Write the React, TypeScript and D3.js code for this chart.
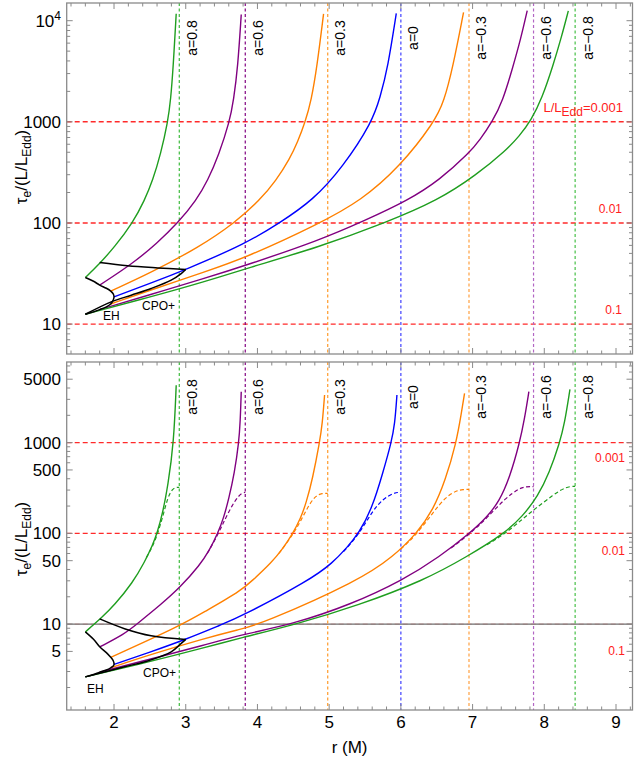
import React from 'react';
import * as d3 from 'd3';

type Pt = [number, number];

// spins, ISCO radii (vertical dashed lines) and colours
const SPINS = ['0.8', '0.6', '0.3', '0', '\u22120.3', '\u22120.6', '\u22120.8'];
const ISCO = [2.91, 3.83, 4.98, 6.0, 6.95, 7.85, 8.43];
const COLORS = ['#1f9e1f', '#800080', '#ff8000', '#0000ff', '#ff8000', '#800080', '#1f9e1f'];
const ISCO_COLORS = ['#3cba3c', '#800080', '#ff9a2a', '#4040ff', '#ffa040', '#b266c4', '#46bf46'];

// red lines: tau_e/(L/L_Edd) value and L/L_Edd label
const EDD_VALUES = [1000, 100, 10];
const EDD_LABELS = ['0.001', '0.01', '0.1'];

// x ticks
const X_MAJOR = [2, 3, 4, 5, 6, 7, 8, 9];

// top panel : solid curves, r (M) vs tau_e/(L/L_Edd)
const TOP_A08: Pt[] = [[1.6, 28.9], [1.8, 39.7], [2.0, 57], [2.26, 100], [2.425, 167], [2.54, 264], [2.65, 480], [2.75, 1000], [2.79, 1650], [2.825, 3470], [2.867, 11700]];
const TOP_A06: Pt[] = [[1.8, 24.3], [2.26, 39.7], [2.6, 63], [2.89, 100], [3.146, 167], [3.308, 264], [3.46, 470], [3.611, 1000], [3.668, 1650], [3.726, 3470], [3.774, 11500]];
const TOP_A03: Pt[] = [[1.954, 21.2], [2.495, 31.7], [3.192, 58], [3.68, 100], [4.03, 167], [4.262, 264], [4.45, 431], [4.56, 631], [4.666, 1000], [4.75, 1620], [4.83, 3500], [4.922, 11700]];
const TOP_A0: Pt[] = [[2.0, 18.6], [2.5, 25.2], [3.0, 34.6], [3.843, 62.7], [4.308, 100], [4.772, 167], [5.191, 357], [5.601, 1000], [5.71, 1740], [5.819, 3470], [5.936, 11800]];
const TOP_AM03: Pt[] = [[1.954, 15.8], [2.5, 21.6], [3.262, 32.8], [3.843, 45.5], [4.866, 98.7], [5.447, 167], [5.982, 357], [6.47, 1000], [6.6, 1580], [6.725, 3470], [6.874, 12100]];
const TOP_AM06: Pt[] = [[1.8, 13.9], [2.5, 19.5], [3.262, 28.3], [3.843, 38.2], [4.866, 67.5], [5.5, 106], [6.097, 167], [6.54, 266], [6.958, 496], [7.1, 660], [7.274, 1000], [7.42, 1600], [7.561, 3470], [7.67, 6550], [7.762, 12600]];
const TOP_AM08: Pt[] = [[1.6, 12.5], [2.5, 18.5], [3.262, 26.2], [3.843, 35.5], [4.866, 58], [5.78, 100], [6.516, 167], [7.05, 297], [7.47, 525], [7.65, 720], [7.818, 1040], [7.97, 1725], [8.12, 3560], [8.24, 6920], [8.335, 12500]];
const TOP_EH: Pt[] = [[1.6, 28.9], [1.714, 26.5], [1.8, 24.3], [1.893, 22.6], [1.954, 21.2], [1.989, 19.9], [2.0, 18.6], [1.989, 17.3], [1.954, 15.8], [1.893, 14.8], [1.8, 13.9], [1.714, 13.2], [1.6, 12.5]];
const TOP_CPO_U: Pt[] = [[1.8, 40.6], [2.19, 37.7], [2.61, 35.9], [3.0, 34.6]];
const TOP_CPO_L: Pt[] = [[3.0, 34.6], [2.937, 31.6], [2.797, 27.2], [2.518, 22.5], [2.24, 19.3], [1.96, 16.6], [1.6, 12.5]];

// bottom panel : solid curves
const BOT_A08: Pt[] = [[1.6, 8.2], [1.82, 11.6], [2.006, 16.2], [2.26, 28.6], [2.425, 48], [2.54, 75], [2.6, 100], [2.68, 170], [2.75, 330], [2.834, 1000], [2.867, 4300]];
const BOT_A06: Pt[] = [[1.8, 5.6], [2.146, 7.8], [2.305, 9.8], [2.656, 16.5], [2.914, 25], [3.2, 45], [3.33, 65], [3.447, 100], [3.53, 149], [3.6, 240], [3.68, 466], [3.74, 1000], [3.76, 1700], [3.774, 3640]];
const BOT_A03: Pt[] = [[1.954, 4.3], [2.914, 9.5], [3.262, 13.7], [3.751, 22.7], [3.936, 30.5], [4.2, 48], [4.35, 67], [4.493, 100], [4.6, 145], [4.68, 217], [4.77, 404], [4.866, 1000], [4.905, 1610], [4.936, 3350]];
const BOT_A0: Pt[] = [[2.0, 3.6], [2.5, 4.9], [3.0, 6.78], [3.515, 10], [3.751, 11.9], [4.73, 30.5], [5.05, 47.4], [5.25, 70], [5.414, 100], [5.6, 190], [5.75, 468], [5.866, 1000], [5.915, 1580], [5.945, 3350]];
const BOT_AM03: Pt[] = [[1.954, 3.3], [2.5, 4.6], [3.262, 6.95], [3.751, 8.74], [4.05, 10], [5.426, 30.5], [5.89, 55.2], [6.223, 100], [6.45, 182], [6.62, 383], [6.773, 1000], [6.843, 2100], [6.888, 3500]];
const BOT_AM06: Pt[] = [[1.8, 2.95], [2.5, 4.1], [3.262, 5.87], [3.751, 7.57], [4.5, 10], [5.3, 16.4], [6.028, 30.5], [6.54, 55.2], [6.959, 100], [7.2, 151], [7.37, 224], [7.52, 417], [7.656, 1000], [7.723, 1800], [7.785, 3640]];
const BOT_AM08: Pt[] = [[1.6, 2.62], [2.5, 3.85], [3.262, 5.5], [3.751, 7.0], [4.55, 10], [5.4, 16], [6.33, 30.5], [6.92, 55.2], [7.447, 100], [7.7, 155], [7.91, 257], [8.07, 463], [8.214, 1000], [8.28, 1580], [8.358, 3870]];
// bottom panel : dashed curves
const BOT_D08: Pt[] = [[2.45, 54], [2.54, 72], [2.6, 95], [2.68, 152], [2.75, 253], [2.82, 313], [2.87, 322], [2.91, 321]];
const BOT_D06: Pt[] = [[3.3, 60], [3.447, 96], [3.55, 145], [3.65, 205], [3.73, 255], [3.79, 280], [3.83, 283]];
const BOT_D03: Pt[] = [[4.3, 60], [4.493, 97], [4.6, 135], [4.73, 215], [4.82, 262], [4.9, 276], [4.98, 276]];
const BOT_D0: Pt[] = [[5.2, 63], [5.414, 97], [5.6, 175], [5.75, 240], [5.9, 278], [5.96, 283], [6.0, 282]];
const BOT_DM03: Pt[] = [[6.0, 67], [6.223, 98], [6.45, 170], [6.62, 250], [6.773, 296], [6.87, 305], [6.95, 305]];
const BOT_DM06: Pt[] = [[6.7, 69], [6.959, 98], [7.2, 148], [7.47, 250], [7.656, 315], [7.75, 328], [7.85, 328]];
const BOT_DM08: Pt[] = [[7.2, 75], [7.447, 98], [7.7, 145], [7.865, 185], [8.12, 264], [8.3, 327], [8.43, 330]];
const BOT_EH: Pt[] = [[1.6, 8.22], [1.714, 6.8], [1.8, 5.62], [1.893, 4.85], [1.954, 4.3], [1.989, 3.95], [2.0, 3.6], [1.989, 3.45], [1.954, 3.3], [1.893, 3.12], [1.8, 2.95], [1.714, 2.78], [1.6, 2.62]];
const BOT_CPO_U: Pt[] = [[1.8, 11.4], [2.146, 8.9], [2.518, 7.43], [3.0, 6.78]];
const BOT_CPO_L: Pt[] = [[3.0, 6.78], [2.937, 6.12], [2.797, 4.95], [2.5, 4.0], [2.146, 3.38], [1.6, 2.62]];

const FONT = "'Liberation Sans', Arial, Helvetica, sans-serif";
const X0 = 66.7;
const X1 = 632.5;
const x = d3.scaleLinear().domain([1.34, 9.23]).range([X0, X1]);

type PanelProps = {
  id: string;
  top: number;
  bottom: number;
  domain: [number, number];
  solid: Pt[][];
  dashed?: Pt[][];
  eh: Pt[];
  cpoU: Pt[];
  cpoL: Pt[];
  yMajor: number[];
  yLabelMid: number;
  ehPos: [number, number];
  cpoPos: [number, number];
  redPos: number[];
  isTop: boolean;
};

function Panel(p: PanelProps) {
  const y = d3.scaleLog().domain(p.domain).range([p.bottom, p.top]);
  // smooth spline for the coloured curves, through-the-points for the black loci
  const smooth = d3.line<Pt>().x(d => x(d[0])).y(d => y(d[1])).curve(d3.curveBasis);
  const line = d3.line<Pt>().x(d => x(d[0])).y(d => y(d[1])).curve(d3.curveCatmullRom.alpha(0.5));
  const yMinor = y.ticks().filter(t => !p.yMajor.some(m => Math.abs(m - t) < 1e-6));
  const xMinor = d3.range(7, 47).map(i => i / 5).filter(v => v > 1.34 && v < 9.23 && Math.abs(v - Math.round(v)) > 1e-6);
  const frame = '#8a8a8a';
  const clip = `clip-${p.id}`;
  const tickLabel = (v: number) => {
    if (v === 10000) {
      return (
        <text key={v} x={61} y={y(v)} dy="0.35em" textAnchor="end" fontSize={17}>
          10<tspan dy={-7} fontSize={12}>4</tspan>
        </text>
      );
    }
    return (
      <text key={v} x={61} y={y(v)} dy="0.35em" textAnchor="end" fontSize={17}>{v}</text>
    );
  };

  return (
    <g fontFamily={FONT}>
      <defs>
        <clipPath id={clip}>
          <rect x={X0} y={p.top} width={X1 - X0} height={p.bottom - p.top} />
        </clipPath>
      </defs>

      <g clipPath={`url(#${clip})`}>
        {/* L/L_Edd levels */}
        {EDD_VALUES.map((v, i) => (
          <line key={'r' + i} x1={X0} x2={X1} y1={y(v)} y2={y(v)}
            stroke="#ff2a2a" strokeWidth={1.4} strokeDasharray="5,3"
            opacity={!p.isTop && v === 10 ? 0.35 : 1} />
        ))}
        {!p.isTop && (
          <line x1={X0} x2={X1} y1={y(10)} y2={y(10)} stroke="#6e6e6e" strokeWidth={1.1} />
        )}

        {/* ISCO lines */}
        {ISCO.map((r, i) => (
          <line key={'v' + i} x1={x(r)} x2={x(r)} y1={p.top} y2={p.bottom}
            stroke={ISCO_COLORS[i]} strokeWidth={1.2} strokeDasharray="3,2.5" />
        ))}

        {/* curves */}
        {p.solid.map((c, i) => (
          <path key={'s' + i} d={smooth(c) || ''} fill="none" stroke={COLORS[i]} strokeWidth={1.4} />
        ))}
        {(p.dashed || []).map((c, i) => (
          <path key={'d' + i} d={smooth(c) || ''} fill="none" stroke={COLORS[i]} strokeWidth={1.2} strokeDasharray="4,2.5" />
        ))}
        <path d={line(p.eh) || ''} fill="none" stroke="#000" strokeWidth={1.5} />
        <path d={line(p.cpoU) || ''} fill="none" stroke="#000" strokeWidth={1.5} />
        <path d={line(p.cpoL) || ''} fill="none" stroke="#000" strokeWidth={1.5} />
      </g>

      {/* spin labels */}
      {ISCO.map((r, i) => (
        <text key={'a' + i} transform={`translate(${x(r) + 12.5},${p.top + 35}) rotate(-90)`}
          textAnchor="middle" dy="0.35em" fontSize={14}>{'a=' + SPINS[i]}</text>
      ))}

      {/* red labels */}
      {p.isTop ? (
        <g fill="#ff2020">
          <text x={623} y={p.redPos[0]} textAnchor="end" fontSize={13}>
            L/L<tspan dy={4} fontSize={12}>Edd</tspan><tspan dy={-4}>=0.001</tspan>
          </text>
          <text x={622} y={p.redPos[1]} textAnchor="end" fontSize={12}>{EDD_LABELS[1]}</text>
          <text x={622} y={p.redPos[2]} textAnchor="end" fontSize={12}>{EDD_LABELS[2]}</text>
        </g>
      ) : (
        <g fill="#ff2020">
          {EDD_LABELS.map((s, i) => (
            <text key={s} x={625} y={p.redPos[i]} textAnchor="end" fontSize={12}>{s}</text>
          ))}
        </g>
      )}

      <text x={p.ehPos[0]} y={p.ehPos[1]} fontSize={12}>EH</text>
      <text x={p.cpoPos[0]} y={p.cpoPos[1]} fontSize={12}>CPO+</text>

      {/* frame and ticks */}
      <rect x={X0} y={p.top} width={X1 - X0} height={p.bottom - p.top} fill="none" stroke={frame} strokeWidth={1.3} />
      <g stroke={frame} strokeWidth={1}>
        {X_MAJOR.map(v => (
          <g key={'xm' + v}>
            <line x1={x(v)} x2={x(v)} y1={p.bottom} y2={p.bottom - 6} />
            <line x1={x(v)} x2={x(v)} y1={p.top} y2={p.top + 6} />
          </g>
        ))}
        {xMinor.map(v => (
          <g key={'xn' + v}>
            <line x1={x(v)} x2={x(v)} y1={p.bottom} y2={p.bottom - 3.5} />
            <line x1={x(v)} x2={x(v)} y1={p.top} y2={p.top + 3.5} />
          </g>
        ))}
        {p.yMajor.map(v => (
          <g key={'ym' + v}>
            <line x1={X0} x2={X0 + 6} y1={y(v)} y2={y(v)} />
            <line x1={X1} x2={X1 - 6} y1={y(v)} y2={y(v)} />
          </g>
        ))}
        {yMinor.map(v => (
          <g key={'yn' + v}>
            <line x1={X0} x2={X0 + 3.5} y1={y(v)} y2={y(v)} />
            <line x1={X1} x2={X1 - 3.5} y1={y(v)} y2={y(v)} />
          </g>
        ))}
      </g>
      {p.yMajor.map(tickLabel)}

      {/* y axis label */}
      <text transform={`translate(27,${p.yLabelMid}) rotate(-90)`} textAnchor="middle" fontSize={17}>
        {'\u03C4'}<tspan dy={4} fontSize={12}>e</tspan><tspan dy={-4}>/(L/L</tspan><tspan dy={4} fontSize={12}>Edd</tspan><tspan dy={-4}>)</tspan>
      </text>

      {!p.isTop && X_MAJOR.map(v => (
        <text key={'xl' + v} x={x(v)} y={728} textAnchor="middle" fontSize={17}>{v}</text>
      ))}
    </g>
  );
}

export default function App() {
  return (
    <svg width={634} height={767} style={{ position: 'absolute', left: 0, top: 0, background: '#fff' }}>
      <Panel id="top" top={3} bottom={354} domain={[5.06, 14960]}
        solid={[TOP_A08, TOP_A06, TOP_A03, TOP_A0, TOP_AM03, TOP_AM06, TOP_AM08]}
        eh={TOP_EH} cpoU={TOP_CPO_U} cpoL={TOP_CPO_L}
        yMajor={[10, 100, 1000, 10000]} yLabelMid={167}
        ehPos={[103, 320]} cpoPos={[142, 310]} redPos={[112, 213, 314]} isTop={true} />
      <Panel id="bot" top={362} bottom={710} domain={[1.13, 7740]}
        solid={[BOT_A08, BOT_A06, BOT_A03, BOT_A0, BOT_AM03, BOT_AM06, BOT_AM08]}
        dashed={[BOT_D08, BOT_D06, BOT_D03, BOT_D0, BOT_DM03, BOT_DM06, BOT_DM08]}
        eh={BOT_EH} cpoU={BOT_CPO_U} cpoL={BOT_CPO_L}
        yMajor={[5, 10, 50, 100, 500, 1000, 5000]} yLabelMid={539}
        ehPos={[87, 693]} cpoPos={[143, 677]} redPos={[462, 555, 655]} isTop={false} />
      <text x={(X0 + X1) / 2} y={753} textAnchor="middle" fontSize={17} fontFamily={FONT}>r (M)</text>
    </svg>
  );
}
